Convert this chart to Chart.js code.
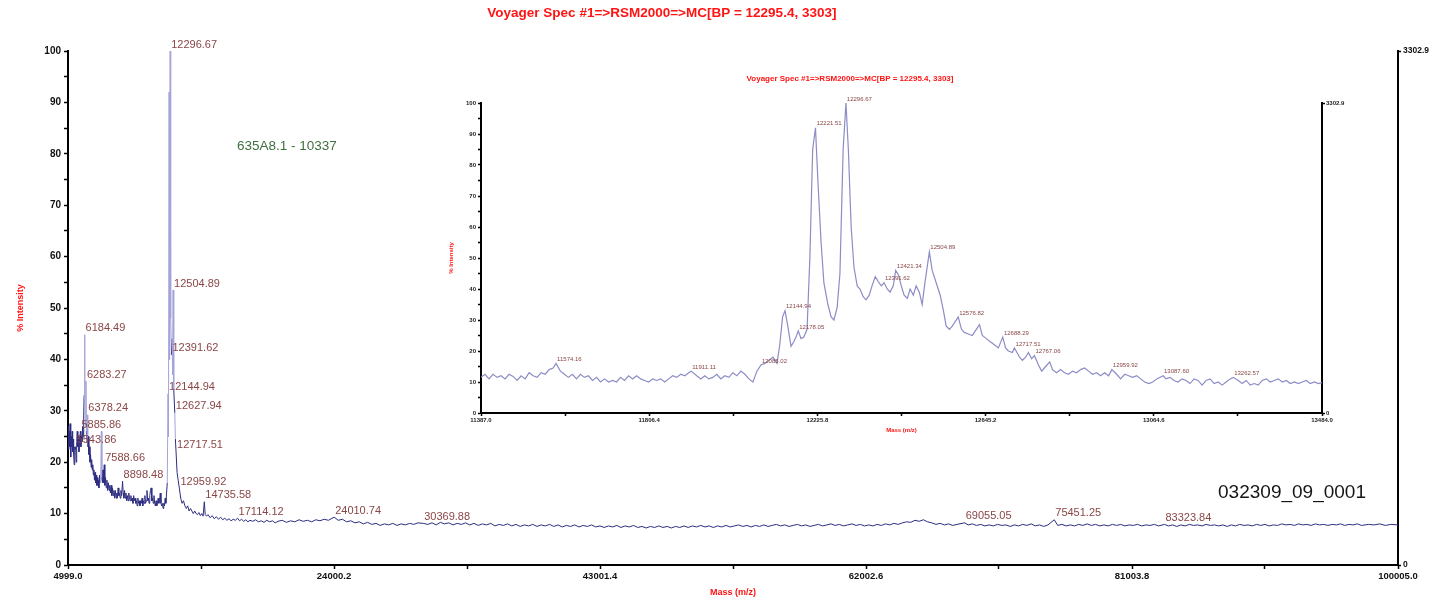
<!DOCTYPE html>
<html>
<head>
<meta charset="utf-8">
<title>Voyager Spec #1</title>
<script src="https://cdn.jsdelivr.net/npm/chart.js@4.4.1/dist/chart.umd.min.js"></script>
<style>
  body { margin: 0; background: #fff; }
  #wrap { position: relative; width: 1442px; height: 602px; }
  #mainChart { position: absolute; left: 0; top: 0; }
  #insetChart { position: absolute; left: 430px; top: 66px; }
</style>
</head>
<body>
<div id="wrap">
  <canvas id="mainChart" width="1442" height="602"></canvas>
  <canvas id="insetChart" width="970" height="368"></canvas>
</div>
<script>
// ---- main spectrum (m/z, % intensity) ----
var mainMz = [
  4999, 5030, 5060, 5090, 5120, 5150, 5180, 5210, 5240, 5270, 5300, 5330, 5360, 5400, 5440, 5480, 5520, 5543.86, 5580, 5620,
  5660, 5700, 5740, 5780, 5820, 5885.86, 5920, 5960, 6000, 6040, 6080, 6120, 6150, 6184.49, 6210, 6240, 6283.27, 6310, 6340, 6378.24,
  6410, 6450, 6490, 6530, 6570, 6610, 6650, 6690, 6730, 6770, 6810, 6850, 6890, 6930, 6970, 7010, 7050, 7090, 7130, 7170,
  7210, 7250, 7290, 7330, 7380, 7420, 7460, 7500, 7540, 7588.66, 7630, 7680, 7730, 7780, 7830, 7880, 7930, 7980, 8030, 8080,
  8130, 8180, 8230, 8280, 8330, 8380, 8430, 8480, 8530, 8580, 8630, 8680, 8730, 8780, 8830, 8898.48, 8940, 8990, 9040, 9090,
  9140, 9190, 9240, 9290, 9340, 9390, 9440, 9490, 9540, 9590, 9640, 9690, 9740, 9790, 9840, 9890, 9940, 9990, 10040, 10090,
  10140, 10190, 10240, 10290, 10340, 10390, 10440, 10490, 10540, 10590, 10640, 10690, 10740, 10790, 10840, 10890, 10940, 10990, 11040, 11090,
  11140, 11190, 11240, 11290, 11340, 11390, 11440, 11490, 11540, 11590, 11640, 11690, 11740, 11790, 11840, 11890, 11940, 11990, 12040, 12090,
  12144.94, 12175, 12221.51, 12255, 12296.67, 12335, 12391.62, 12440, 12470, 12504.89, 12555, 12627.94, 12670, 12717.51, 12790, 12870, 12959.92, 13050, 13150, 13250,
  13350, 13450, 13550, 13650, 13750, 13850, 13950, 14050, 14150, 14250, 14350, 14450, 14550, 14650, 14735.58, 14800, 14900, 15000, 15150, 15300,
  15450, 15600, 15750, 15900, 16050, 16200, 16350, 16500, 16650, 16800, 16950, 17114.12, 17250, 17400, 17550, 17700, 17850, 18000, 18200, 18400,
  18600, 18800, 19000, 19200, 19400, 19600, 19800, 20000, 20300, 20600, 20900, 21200, 21500, 21800, 22100, 22400, 22700, 23000, 23300, 23600,
  24010.74, 24300, 24600, 24900, 25200, 25500, 25800, 26100, 26400, 26700, 27000, 27300, 27600, 27900, 28200, 28500, 28800, 29100, 29400, 29700,
  30000, 30369.88, 30700, 31000, 31300, 31600, 31900, 32200, 32500, 32800, 33100, 33400, 33700, 34000, 34300, 34600, 34900, 35200, 35500, 35800,
  36100, 36400, 36700, 37000, 37300, 37600, 37900, 38200, 38500, 38800, 39100, 39400, 39700, 40000, 40300, 40600, 40900, 41200, 41500, 41800,
  42100, 42400, 42700, 43000, 43300, 43600, 43900, 44200, 44500, 44800, 45100, 45400, 45700, 46000, 46300, 46600, 46900, 47200, 47500, 47800,
  48100, 48400, 48700, 49000, 49300, 49600, 49900, 50200, 50500, 50800, 51100, 51400, 51700, 52000, 52300, 52600, 52900, 53200, 53500, 53800,
  54100, 54400, 54700, 55000, 55300, 55600, 55900, 56200, 56500, 56800, 57100, 57400, 57700, 58000, 58300, 58600, 58900, 59200, 59500, 59800,
  60100, 60400, 60700, 61000, 61300, 61600, 61900, 62200, 62500, 62800, 63100, 63400, 63700, 64000, 64300, 64600, 64900, 65200, 65500, 65800,
  66100, 66400, 66700, 67000, 67300, 67600, 67900, 68200, 68500, 69055.05, 69300, 69600, 69900, 70200, 70500, 70800, 71100, 71400, 71700, 72000,
  72300, 72600, 72900, 73200, 73500, 73800, 74100, 74400, 74700, 75000, 75451.25, 75700, 76000, 76300, 76600, 76900, 77200, 77500, 77800, 78100,
  78400, 78700, 79000, 79300, 79600, 79900, 80200, 80500, 80800, 81100, 81400, 81700, 82000, 82300, 82600, 82900, 83323.84, 83600, 83900, 84200,
  84500, 84800, 85100, 85400, 85700, 86000, 86300, 86600, 86900, 87200, 87500, 87800, 88100, 88400, 88700, 89000, 89300, 89600, 89900, 90200,
  90500, 90800, 91100, 91400, 91700, 92000, 92300, 92600, 92900, 93200, 93500, 93800, 94100, 94400, 94700, 95000, 95300, 95600, 95900, 96200,
  96500, 96800, 97100, 97400, 97900, 98300, 98700, 99100, 99500, 100005
];
var mainInt = [
  24, 27, 22.5, 26, 23, 27.5, 24, 21, 25, 23, 26, 22, 24.5, 21.5, 19.5, 23, 22.5, 23, 20, 24,
  26, 23, 25, 22, 24, 26, 23, 25, 24, 27, 25, 29, 33, 44.8, 32, 27, 35.8, 26, 24, 29.2,
  23, 25, 21.5, 23, 20, 21.5, 19, 20.5, 18.5, 19.5, 17.5, 18.5, 16.5, 18, 16, 17.5, 15.5, 17, 15.5, 16.5,
  15, 17.5, 16, 16, 26, 17, 16, 18.5, 16, 19.5, 15.5, 17, 15, 16.5, 14.5, 16, 14.5, 15.5, 14, 15.5,
  13.5, 15, 13.5, 14.5, 13, 14.5, 13, 14, 13, 15, 13.5, 14, 13, 14.5, 13.5, 16.3, 14, 13, 14.5, 13,
  14, 12.5, 13.5, 12.5, 14, 13, 12.5, 13.5, 12.5, 13, 12, 13.5, 12.5, 13, 12, 12.5, 11.5, 13, 12, 12.5,
  11.5, 12.5, 12, 13, 11.5, 12.5, 12, 13.5, 12, 12.5, 14.5, 12.5, 13, 12, 13.5, 14.5, 15, 12.5, 13, 12,
  13.5, 12, 11.5, 12.5, 11.5, 12, 13, 12, 12.5, 14, 12, 11.5, 12, 11, 12, 11.5, 13, 12, 14, 16,
  33.3, 25, 92, 40, 100, 48, 40.9, 44, 37, 53.5, 34, 29.6, 24.5, 22, 18, 16.5, 14.8, 13, 12, 12.5,
  11.5, 11, 11.5, 10.5, 11, 10.5, 10, 10.5, 10, 9.8, 10.2, 9.6, 10, 9.5, 12.3, 9.8, 9.5, 9.8, 9.2, 9.6,
  9, 9.4, 8.9, 9.3, 8.8, 9.1, 8.7, 9, 8.6, 8.9, 8.7, 9.1, 8.6, 8.9, 8.5, 8.8, 8.4, 8.7, 8.5, 8.8,
  8.4, 8.6, 8.3, 8.7, 8.4, 8.6, 8.2, 8.5, 8.7, 8.3, 8.6, 8.4, 8.8, 8.5, 8.7, 8.4, 8.8, 8.6, 8.9, 8.7,
  9.3, 8.7, 8.9, 8.4, 8.6, 8.2, 8.4, 8, 8.3, 7.9, 8.1, 7.7, 8, 7.8, 8.1, 7.7, 8, 7.8, 8.1, 7.9,
  8.2, 8.1, 7.9, 8.2, 7.8, 8.3, 8, 8.2, 7.8, 8.1, 7.9, 8.2, 7.8, 8.1, 7.7, 8, 7.8, 8.1, 7.6, 7.9,
  7.7, 8, 7.6, 7.9, 7.5, 7.8, 7.6, 7.9, 7.5, 7.8, 7.6, 7.9, 7.5, 7.8, 7.4, 7.7, 7.5, 7.8, 7.4, 7.7,
  7.5, 7.8, 7.4, 7.6, 7.3, 7.6, 7.4, 7.7, 7.3, 7.6, 7.4, 7.7, 7.3, 7.5, 7.2, 7.5, 7.3, 7.6, 7.3, 7.5,
  7.2, 7.5, 7.3, 7.6, 7.3, 7.6, 7.4, 7.7, 7.4, 7.6, 7.3, 7.6, 7.4, 7.7, 7.4, 7.6, 7.8, 7.5, 7.7, 7.4,
  7.7, 7.5, 7.8, 7.5, 7.7, 7.9, 7.6, 7.8, 7.5, 7.7, 7.9, 7.6, 7.8, 7.5, 7.7, 7.9, 7.6, 7.8, 8, 7.7,
  7.9, 7.6, 7.8, 8, 7.7, 7.9, 7.6, 7.8, 7.6, 7.9, 7.7, 8, 7.8, 8.1, 7.9, 8.2, 8.4, 8.3, 8.7, 8.5,
  8.8, 8.4, 8.2, 7.9, 8.1, 7.8, 8, 7.7, 7.9, 8.2, 7.8, 8, 7.7, 7.9, 7.6, 7.8, 7.6, 7.9, 7.7, 7.8,
  7.5, 7.8, 7.6, 7.9, 7.7, 8, 7.6, 7.8, 7.5, 7.8, 8.8, 7.7, 7.9, 7.6, 7.8, 7.6, 7.9, 7.7, 8, 7.7,
  7.9, 7.6, 7.8, 7.6, 7.9, 7.7, 7.9, 7.6, 7.8, 7.7, 7.9, 7.6, 7.8, 7.7, 7.9, 7.6, 7.9, 7.6, 7.8, 7.5,
  7.8, 7.6, 7.9, 7.7, 7.8, 7.6, 7.9, 7.7, 7.8, 7.6, 7.8, 7.5, 7.8, 7.6, 7.9, 7.7, 7.8, 7.6, 7.9, 7.7,
  7.9, 7.6, 7.8, 7.7, 8, 7.8, 7.9, 7.7, 8, 7.8, 7.9, 7.7, 8, 7.8, 7.9, 7.7, 7.9, 7.8, 8, 7.7,
  7.9, 7.8, 8, 7.7, 7.9, 7.8, 8, 7.7, 7.9, 7.8
];

// labelled peaks on the main trace
var mainPeakMz = [12296.67, 12504.89, 6184.49, 12391.62, 6283.27, 12144.94, 12627.94, 6378.24, 5885.86, 5543.86, 12717.51, 7588.66, 8898.48, 12959.92, 14735.58, 17114.12, 24010.74, 30369.88, 69055.05, 75451.25, 83323.84];
var mainPeakInt = [100, 53.5, 44.8, 40.9, 35.8, 33.3, 29.6, 29.2, 26, 23, 22, 19.5, 16.3, 14.8, 12.3, 9.1, 9.3, 8.1, 8.2, 8.8, 7.9];
var mainPeakText = ['12296.67', '12504.89', '6184.49', '12391.62', '6283.27', '12144.94', '12627.94', '6378.24', '5885.86', '5543.86', '12717.51', '7588.66', '8898.48', '12959.92', '14735.58', '17114.12', '24010.74', '30369.88', '69055.05', '75451.25', '83323.84'];

var mainXTicks = [4999.0, 24000.2, 43001.4, 62002.6, 81003.8, 100005.0];
var mainXTickLabels = ['4999.0', '24000.2', '43001.4', '62002.6', '81003.8', '100005.0'];
var rightTicks = [0, 3302.9];
var rightTickLabels = ['0', '3302.9'];

// ---- zoomed inset spectrum ----
var insetMz = [
  11387, 11397, 11407, 11417, 11427, 11437, 11447, 11457, 11467, 11477, 11487, 11497, 11507, 11517, 11527, 11537, 11547, 11557, 11567, 11574,
  11585, 11595, 11605, 11615, 11625, 11635, 11645, 11655, 11665, 11675, 11685, 11695, 11705, 11715, 11725, 11735, 11745, 11755, 11765, 11775,
  11785, 11795, 11805, 11815, 11825, 11835, 11845, 11855, 11865, 11875, 11885, 11895, 11905, 11911, 11925, 11935, 11945, 11955, 11965, 11975,
  11985, 11995, 12005, 12015, 12025, 12035, 12045, 12055, 12065, 12075, 12085, 12095, 12105, 12115, 12125, 12132, 12139, 12145, 12152, 12160,
  12167, 12174, 12178, 12185, 12192, 12200, 12207, 12214, 12221, 12227, 12235, 12242, 12252, 12260, 12267, 12275, 12282, 12290, 12297, 12303,
  12310, 12317, 12325, 12332, 12340, 12347, 12355, 12362, 12370, 12377, 12385, 12392, 12400, 12407, 12415, 12421, 12428, 12435, 12442, 12450,
  12457, 12465, 12472, 12480, 12487, 12495, 12505, 12512, 12522, 12532, 12540, 12547, 12555, 12562, 12577, 12585, 12592, 12602, 12612, 12622,
  12630, 12637, 12647, 12657, 12667, 12677, 12688, 12695, 12702, 12712, 12717, 12730, 12737, 12745, 12752, 12760, 12767, 12777, 12785, 12795,
  12805, 12812, 12822, 12832, 12842, 12852, 12862, 12872, 12882, 12892, 12902, 12912, 12922, 12932, 12942, 12952, 12960, 12972, 12982, 12992,
  13002, 13012, 13022, 13032, 13042, 13052, 13062, 13072, 13088, 13095, 13105, 13115, 13125, 13135, 13145, 13155, 13165, 13175, 13185, 13195,
  13205, 13215, 13225, 13235, 13245, 13255, 13263, 13275, 13285, 13295, 13305, 13315, 13325, 13335, 13345, 13355, 13365, 13375, 13385, 13395,
  13405, 13415, 13425, 13435, 13445, 13455, 13465, 13475, 13484
];
var insetInt = [
  11.5, 12.5, 11, 12.5, 11.5, 12, 11, 12.5, 11.8, 10.5, 12, 11, 13, 12, 11.5, 13, 12.5, 14, 14.5, 16,
  13.5, 12.5, 11.5, 12.5, 11, 12.5, 11.5, 12, 10.5, 11.5, 10, 11, 10, 10.5, 10, 11.5, 10.5, 12, 11, 12,
  11, 10.5, 10, 11, 10.5, 11, 10, 11, 12, 11.5, 12.5, 12, 13, 13.5, 12, 11, 12, 11, 11.5, 12.5,
  11, 12, 11.5, 13, 12, 13.5, 12.5, 11, 10, 13.5, 15.5, 16, 17, 18, 16, 22, 31, 33, 28, 21.5,
  23, 25, 26.5, 24, 24.5, 27, 50, 85, 92, 75, 55, 42, 35, 31, 30, 34, 45, 85, 100, 85,
  60, 47, 41, 40, 37.5, 36.5, 38, 41, 44, 42.5, 41, 42, 40, 39, 41, 46, 44.5, 41, 38, 37,
  40, 38, 41, 39, 35, 43, 52, 46, 42, 38, 33, 28, 27, 28, 31, 27, 26, 25.5, 25, 27,
  28.5, 25, 24, 23, 22, 21, 24.5, 21, 20, 19.5, 21, 18, 17, 18, 19.5, 17.5, 18.5, 15.5, 13.5, 15,
  16.5, 14, 13, 14, 13, 12.5, 13.5, 13, 14, 14.5, 13.5, 12.5, 13, 12, 13, 12, 14, 12.5, 11, 12.5,
  12, 11.5, 12, 11, 10, 9.5, 10, 11, 12, 11, 11.5, 10.5, 10, 11, 10.5, 9.5, 11, 10.5, 9, 10.5,
  11, 9.5, 10, 9, 10, 11, 11.5, 10.5, 9.5, 10.5, 9, 9.5, 9, 10.5, 11, 10, 10.5, 11, 10, 10.5,
  9.5, 10, 9.5, 10, 10.5, 9.5, 10, 9.5, 9.8
];

var insetPeakMz = [11574.16, 11911.11, 12085.02, 12144.94, 12178.05, 12221.51, 12296.67, 12391.62, 12421.34, 12504.89, 12576.82, 12688.29, 12717.51, 12767.06, 12959.92, 13087.60, 13262.57];
var insetPeakInt = [16, 13.5, 15.5, 33, 26.5, 92, 100, 42, 46, 52, 31, 24.5, 21, 18.5, 14, 12, 11.5];
var insetPeakText = ['11574.16', '11911.11', '12085.02', '12144.94', '12178.05', '12221.51', '12296.67', '12391.62', '12421.34', '12504.89', '12576.82', '12688.29', '12717.51', '12767.06', '12959.92', '13087.60', '13262.57'];

var insetXTicks = [11387.0, 11806.4, 12225.8, 12645.2, 13064.6, 13484.0];
var insetXTickLabels = ['11387.0', '11806.4', '12225.8', '12645.2', '13064.6', '13484.0'];

var titleText = 'Voyager Spec #1=>RSM2000=>MC[BP = 12295.4, 3303]';
var sampleText = '635A8.1 - 10337';
var fileText = '032309_09_0001';

var RED = '#ff1414';
var LABEL_COL = '#8a4646';

// pair up x/y arrays into points
function toPoints(xs, ys) {
    return xs.map(function(x, i) { return { x: x, y: ys[i] }; });
}

// major ticks plus one minor tick between each pair
function withMinor(majors) {
    var out = [];
    for (var i = 0; i < majors.length; i++) {
        out.push({ value: majors[i] });
        if (i < majors.length - 1) out.push({ value: (majors[i] + majors[i + 1]) / 2 });
    }
    return out;
}

function labelFor(values, labels) {
    return function(v) {
        for (var i = 0; i < values.length; i++) {
            if (Math.abs(values[i] - v) < 1e-6) return labels[i];
        }
        return '';
    };
}

// draws peak labels at their data position
function peakLabelPlugin(id, mz, ints, texts, font, dx, dy) {
    return {
        id: id,
        afterDatasetsDraw: function(chart) {
            var ctx = chart.ctx;
            var xs = chart.scales.x, ys = chart.scales.y;
            ctx.save();
            ctx.font = font;
            ctx.fillStyle = LABEL_COL;
            ctx.textAlign = 'left';
            ctx.textBaseline = 'bottom';
            for (var i = 0; i < mz.length; i++) {
                ctx.fillText(texts[i], xs.getPixelForValue(mz[i]) + dx, ys.getPixelForValue(ints[i]) + dy);
            }
            ctx.restore();
        }
    };
}

// title drawn by hand, it sits left of center in the original
function titlePlugin(id, text, font, fx, y) {
    return {
        id: id,
        afterDraw: function(chart) {
            var ctx = chart.ctx;
            ctx.save();
            ctx.font = font;
            ctx.fillStyle = RED;
            ctx.textAlign = 'center';
            ctx.textBaseline = 'middle';
            ctx.fillText(text, chart.width * fx, y);
            ctx.restore();
        }
    };
}

var notesPlugin = {
    id: 'notes',
    afterDraw: function(chart) {
        var ctx = chart.ctx;
        var xs = chart.scales.x, ys = chart.scales.y;
        ctx.save();
        ctx.textAlign = 'left';
        ctx.textBaseline = 'middle';
        ctx.font = '13.5px "Liberation Sans", Arial, sans-serif';
        ctx.fillStyle = '#3f6f3f';
        ctx.fillText(sampleText, xs.getPixelForValue(17070), ys.getPixelForValue(81.5));
        ctx.font = '19px "Liberation Sans", Arial, sans-serif';
        ctx.fillStyle = '#161616';
        ctx.fillText(fileText, xs.getPixelForValue(87150), ys.getPixelForValue(14));
        ctx.restore();
    }
};

function axisGrid(len) {
    return { drawOnChartArea: false, drawTicks: true, tickLength: len, color: '#000', tickWidth: 1.5 };
}

var FONT = '"Liberation Sans", Arial, sans-serif';

// ---- main chart ----
new Chart(document.getElementById('mainChart'), {
    type: 'line',
    data: {
        datasets: [{
            data: toPoints(mainMz, mainInt),
            borderColor: '#2d2d82',
            borderWidth: 1,
            pointRadius: 0,
            tension: 0,
            segment: {
                // tall thin spikes look washed out in the original
                borderColor: function(c) { return Math.abs(c.p1.y - c.p0.y) > 25 ? '#a4a4d8' : undefined; }
            }
        }]
    },
    options: {
        responsive: false,
        animation: false,
        layout: { padding: { top: 51, left: 0, right: 0, bottom: 0 } },
        plugins: { legend: { display: false }, tooltip: { enabled: false }, title: { display: false } },
        scales: {
            x: {
                type: 'linear', min: 4999, max: 100005,
                afterBuildTicks: function(s) { s.ticks = withMinor(mainXTicks); },
                afterFit: function(s) { s.height = 37; },
                ticks: { autoSkip: false, maxRotation: 0, padding: 2, color: '#111',
                    font: { family: FONT, size: 9.5, weight: 'bold' },
                    callback: labelFor(mainXTicks, mainXTickLabels) },
                grid: axisGrid(4),
                border: { display: true, color: '#000', width: 2 },
                title: { display: true, text: 'Mass (m/z)', color: RED,
                    font: { family: FONT, size: 9, weight: 'bold' }, padding: { top: 0, bottom: 4 } }
            },
            y: {
                position: 'left', min: 0, max: 100,
                afterFit: function(s) { s.width = 68; },
                ticks: { stepSize: 5, padding: 3, color: '#111', autoSkip: false,
                    font: { family: FONT, size: 10, weight: 'bold' },
                    callback: function(v) { return v % 10 === 0 ? String(v) : ''; } },
                grid: axisGrid(4),
                border: { display: true, color: '#000', width: 2 },
                title: { display: true, text: '% Intensity', color: RED,
                    font: { family: FONT, size: 9, weight: 'bold' }, padding: { top: 15, bottom: 0 } }
            },
            y2: {
                position: 'right', min: 0, max: 3302.9,
                afterBuildTicks: function(s) { s.ticks = rightTicks.map(function(v) { return { value: v }; }); },
                afterFit: function(s) { s.width = 44; },
                ticks: { padding: 2, color: '#111', font: { family: FONT, size: 8.5, weight: 'bold' },
                    callback: labelFor(rightTicks, rightTickLabels) },
                grid: axisGrid(3),
                border: { display: true, color: '#000', width: 2 }
            }
        }
    },
    plugins: [
        peakLabelPlugin('mainPeaks', mainPeakMz, mainPeakInt, mainPeakText, '11px ' + FONT, 1, -1),
        titlePlugin('mainTitle', titleText, 'bold 13.5px ' + FONT, 0.459, 13),
        notesPlugin
    ]
});

// ---- inset chart ----
new Chart(document.getElementById('insetChart'), {
    type: 'line',
    data: {
        datasets: [{
            data: toPoints(insetMz, insetInt),
            borderColor: '#8c8cc6',
            borderWidth: 1.2,
            pointRadius: 0,
            tension: 0
        }]
    },
    options: {
        responsive: false,
        animation: false,
        layout: { padding: { top: 37, left: 0, right: 0, bottom: 0 } },
        plugins: { legend: { display: false }, tooltip: { enabled: false }, title: { display: false } },
        scales: {
            x: {
                type: 'linear', min: 11387.0, max: 13484.0,
                afterBuildTicks: function(s) { s.ticks = withMinor(insetXTicks); },
                afterFit: function(s) { s.height = 21; },
                ticks: { autoSkip: false, maxRotation: 0, padding: 1, color: '#222',
                    font: { family: FONT, size: 6, weight: 'bold' },
                    callback: labelFor(insetXTicks, insetXTickLabels) },
                grid: axisGrid(3),
                border: { display: true, color: '#000', width: 2 },
                title: { display: true, text: 'Mass (m/z)', color: RED,
                    font: { family: FONT, size: 6, weight: 'bold' }, padding: { top: 0, bottom: 0 } }
            },
            y: {
                position: 'left', min: 0, max: 100,
                afterFit: function(s) { s.width = 51; },
                ticks: { stepSize: 5, padding: 2, color: '#222', autoSkip: false,
                    font: { family: FONT, size: 6, weight: 'bold' },
                    callback: function(v) { return v % 10 === 0 ? String(v) : ''; } },
                grid: axisGrid(3),
                border: { display: true, color: '#000', width: 2 },
                title: { display: true, text: '% Intensity', color: RED,
                    font: { family: FONT, size: 6, weight: 'bold' }, padding: { top: 18, bottom: 0 } }
            },
            y2: {
                position: 'right', min: 0, max: 3302.9,
                afterBuildTicks: function(s) { s.ticks = rightTicks.map(function(v) { return { value: v }; }); },
                afterFit: function(s) { s.width = 78; },
                ticks: { padding: 1, color: '#222', font: { family: FONT, size: 6, weight: 'bold' },
                    callback: labelFor(rightTicks, rightTickLabels) },
                grid: axisGrid(3),
                border: { display: true, color: '#000', width: 2 }
            }
        }
    },
    plugins: [
        peakLabelPlugin('insetPeaks', insetPeakMz, insetPeakInt, insetPeakText, '6px ' + FONT, 1, -1),
        titlePlugin('insetTitle', titleText, 'bold 8px ' + FONT, 0.433, 13)
    ]
});
</script>
</body>
</html>
